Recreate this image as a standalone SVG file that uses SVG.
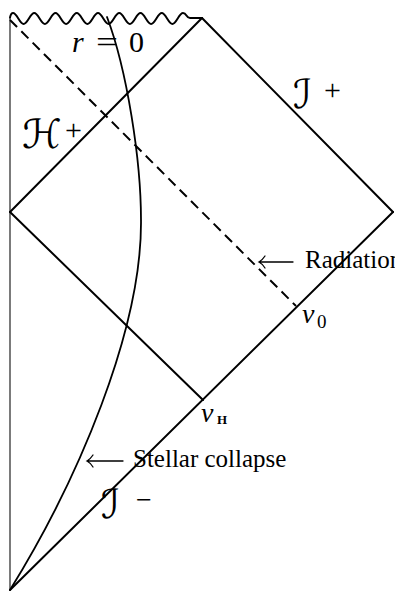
<svg xmlns="http://www.w3.org/2000/svg" width="395" height="594" viewBox="0 0 395 594">
<style>
.ln{fill:none;stroke:#000;stroke-width:2;stroke-linecap:round;stroke-linejoin:round}
.thin{fill:none;stroke:#222;stroke-width:1.2}
.dash{fill:none;stroke:#000;stroke-width:2;stroke-dasharray:10,6}
.arr{fill:none;stroke:#000;stroke-width:1.3;stroke-linecap:round}
.t{font-family:"Liberation Serif","DejaVu Serif",serif;fill:#000}
.it{font-style:italic}
.sc{font-family:"DejaVu Serif","DejaVu Sans","Liberation Serif",serif;font-style:italic;fill:#000}
</style>
<rect width="395" height="594" fill="#fff"/>
<g id="connectors">
<line class="thin" x1="10" y1="18" x2="10" y2="590"/>
<path id="singularity" class="ln" d="M10,17.5 Q11,13 13,13 C16.9,13 19.7,24 23.6,24 S30.35,13 34.25,13 S41,24 44.9,24 S51.6,13 55.5,13 S62.2,24 66.1,24 S72.85,13 76.75,13 S83.5,24 87.4,24 S94.1,13 98,13 S104.7,24 108.6,24 S115.35,13 119.25,13 S126,24 129.9,24 S136.6,13 140.5,13 S147.2,24 151.1,24 S157.85,13 161.75,13 S168.5,24 172.4,24 S179.1,13 183,13 S186,18 190,18 L202,18"/>
<line id="scri-plus" class="ln" x1="202" y1="18" x2="393" y2="212"/>
<line id="scri-minus" class="ln" x1="393" y1="212" x2="10" y2="590"/>
<line id="horizon" class="ln" x1="10" y1="212" x2="202" y2="18"/>
<line id="inner" class="ln" x1="10" y1="212" x2="203" y2="400"/>
<line id="radiation" class="dash" x1="10" y1="20" x2="296" y2="306"/>
<path id="star" class="ln" style="stroke-width:1.8" d="M10,590 C78,480 142,330 141,220 C141,160 127,70 107,17"/>
<path class="arr" d="M259,262 L293,262 M265,256 Q262,260.5 259,262 Q262,263.5 265,268"/>
<path class="arr" d="M87,461 L123,461 M93,455 Q90,459.5 87,461 Q90,462.5 93,467"/>
</g>
<g id="label-r0">
<text class="t it" x="72" y="52" font-size="30">r</text>
<text class="t" x="96" y="52" font-size="30" textLength="22" lengthAdjust="spacingAndGlyphs">=</text>
<text class="t" x="129" y="52" font-size="30">0</text>
</g>
<g id="label-hplus">
<text class="sc" x="22" y="148" font-size="40">ℋ</text>
<text class="t" x="65" y="140" font-size="30">+</text>
</g>
<g id="label-iplus">
<text class="sc" x="293" y="108" font-size="40">ℐ</text>
<text class="t" x="324" y="100" font-size="30">+</text>
</g>
<g id="label-iminus">
<text class="sc" x="101" y="518" font-size="40">ℐ</text>
<text class="t" x="136" y="509" font-size="28">−</text>
</g>
<g id="label-radiation">
<text class="t" x="305" y="268" font-size="25">Radiation</text>
</g>
<g id="label-stellar">
<text class="t" x="133" y="467" font-size="25">Stellar collapse</text>
</g>
<g id="label-v0">
<text class="t it" x="302" y="323" font-size="28">v</text>
<text class="t" x="317" y="328" font-size="19">0</text>
</g>
<g id="label-vH">
<text class="t it" x="201" y="422" font-size="28">v</text>
<text class="t" x="217" y="424" font-size="13" font-weight="bold">H</text>
</g>
</svg>
